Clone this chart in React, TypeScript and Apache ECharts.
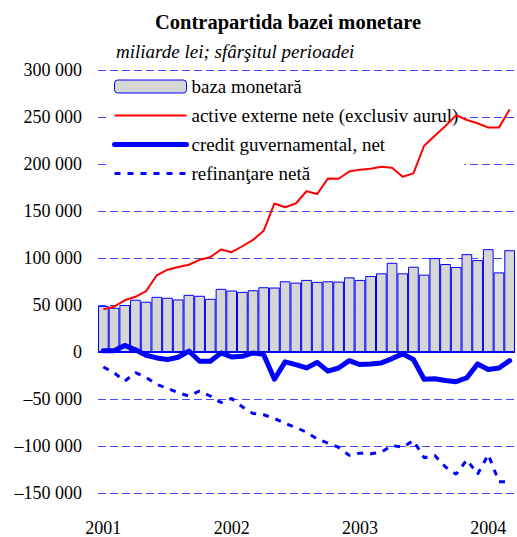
import React, { useEffect, useRef } from 'react';
import * as echarts from 'echarts';

const categories = [
  '2001-01', '2001-02', '2001-03', '2001-04', '2001-05', '2001-06', '2001-07', '2001-08', '2001-09', '2001-10', '2001-11', '2001-12',
  '2002-01', '2002-02', '2002-03', '2002-04', '2002-05', '2002-06', '2002-07', '2002-08', '2002-09', '2002-10', '2002-11', '2002-12',
  '2003-01', '2003-02', '2003-03', '2003-04', '2003-05', '2003-06', '2003-07', '2003-08', '2003-09', '2003-10', '2003-11', '2003-12',
  '2004-01', '2004-02', '2004-03',
];

const bazaMonetara = [
  49000, 47000, 50000, 55600, 53500, 58700, 57700, 55900, 60800, 59800, 56600, 67200,
  65400, 64000, 65700, 68900, 68600, 75200, 73800, 76700, 74600, 75200, 74900, 79400,
  76700, 80900, 83700, 94900, 83700, 90700, 82300, 99900, 93600, 90400, 104100, 97800,
  109400, 84700, 108300,
];

const activeExterne = [
  45400, 48200, 55000, 58700, 64700, 81600, 87600, 90400, 92800, 98100, 100900, 109000,
  106200, 112500, 119200, 129000, 158000, 154000, 158000, 171000, 168000, 184600, 184300, 192000,
  194000, 195000, 197000, 196000, 186400, 190000, 219400, 230000, 240500, 252000, 246800, 243400,
  238700, 238700, 258000,
];

const creditGuv = [
  1400, 1400, 7000, 2400, -3500, -6300, -8000, -5600, 1000, -9800, -9800, -1000,
  -5300, -4600, -1000, -2800, -29000, -10500, -13400, -17000, -11000, -20400, -17000, -9200,
  -13400, -12700, -11600, -7000, -2000, -8000, -29000, -28500, -30300, -31600, -27400, -12700,
  -18700, -17000, -9200,
];

const refinantare = [
  -16000, -22000, -31000, -22000, -27000, -34500, -38700, -43300, -46800, -41500, -46800, -53800,
  -49300, -58400, -65400, -66800, -70700, -76000, -80200, -85400, -92500, -97000, -101300, -110000,
  -107600, -108300, -106500, -99500, -101300, -94200, -112500, -110000, -122400, -130000, -114600, -130000,
  -109000, -138000, -138000,
];

const seriesNames = [
  'baza monetară',
  'active externe nete (exclusiv aurul)',
  'credit guvernamental, net',
  'refinanţare netă',
];

const FONT = 'Liberation Serif';

function fmt(v: number): string {
  const s = String(Math.abs(v)).replace(/\B(?=(\d{3})+(?!\d))/g, ' ');
  return v < 0 ? '\u2013' + s : s;
}

const hidden = { color: 'rgba(0,0,0,0)', borderColor: 'rgba(0,0,0,0)', borderWidth: 0, opacity: 0 };

export default function App() {
  const ref = useRef<HTMLDivElement>(null);
  useEffect(() => {
    if (!ref.current) return;
    const chart = echarts.init(ref.current, null, { renderer: 'svg' });
    chart.setOption({
      animation: false,
      backgroundColor: '#ffffff',
      textStyle: { fontFamily: FONT },
      title: [
        {
          text: 'Contrapartida bazei monetare',
          left: 155,
          top: 11,
          padding: 0,
          textStyle: { fontFamily: FONT, fontSize: 20.5, fontWeight: 'bold', color: '#000' },
        },
        {
          text: 'miliarde lei; sfârşitul perioadei',
          left: 116,
          top: 42,
          padding: 0,
          textStyle: { fontFamily: FONT, fontSize: 19, fontStyle: 'italic', fontWeight: 'normal', color: '#000' },
        },
      ],
      legend: {
        orient: 'vertical',
        left: 106,
        top: 74,
        padding: [3, 6, 6, 6],
        itemGap: 10,
        itemWidth: 72,
        itemHeight: 13,
        z: 1,
        backgroundColor: '#ffffff',
        data: [
          { name: seriesNames[0], itemStyle: { color: '#d6d6d6', borderColor: '#0000ff', borderWidth: 1 } },
          { name: seriesNames[1], itemStyle: hidden, lineStyle: { color: '#ff0000', width: 2 } },
          { name: seriesNames[2], itemStyle: hidden, lineStyle: { color: '#0000ff', width: 5, cap: 'round' } },
          { name: seriesNames[3], itemStyle: hidden, lineStyle: { color: '#0000ff', width: 3, type: [6, 7] } },
        ],
        textStyle: { fontFamily: FONT, fontSize: 19, color: '#000' },
      },
      grid: { left: 98, right: 2, top: 70, bottom: 40, containLabel: false },
      xAxis: {
        type: 'category',
        data: categories,
        axisLine: { show: false },
        axisTick: { show: false },
        axisLabel: {
          interval: (idx: number, val: string) => val.endsWith('-01'),
          formatter: (val: string) => val.slice(0, 4),
          margin: 26,
          fontFamily: FONT,
          fontSize: 18,
          color: '#000',
        },
        splitLine: { show: false },
      },
      yAxis: {
        type: 'value',
        min: -150000,
        max: 300000,
        interval: 50000,
        axisLine: { show: false },
        axisTick: { show: false },
        axisLabel: {
          formatter: (v: number) => fmt(v),
          margin: 16,
          fontFamily: FONT,
          fontSize: 18,
          color: '#000',
        },
        splitLine: { show: true, lineStyle: { color: '#4848ff', type: [8, 4], width: 1 } },
      },
      series: [
        {
          name: seriesNames[0],
          type: 'bar',
          data: bazaMonetara,
          barCategoryGap: '0%',
          itemStyle: { color: '#d6d6d6', borderColor: '#0000ff', borderWidth: 1 },
          z: 2,
          markLine: {
            silent: true,
            symbol: 'none',
            label: { show: false },
            lineStyle: { color: '#0000ff', width: 2, type: 'solid' },
            data: [{ yAxis: 0 }],
          },
        },
        {
          name: seriesNames[1],
          type: 'line',
          data: activeExterne,
          symbol: 'none',
          lineStyle: { color: '#ff0000', width: 2 },
          itemStyle: { color: '#ff0000' },
          z: 3,
        },
        {
          name: seriesNames[2],
          type: 'line',
          data: creditGuv,
          symbol: 'none',
          lineStyle: { color: '#0000ff', width: 5, cap: 'round', join: 'round' },
          itemStyle: { color: '#0000ff' },
          z: 3,
        },
        {
          name: seriesNames[3],
          type: 'line',
          data: refinantare,
          symbol: 'none',
          lineStyle: { color: '#0000ff', width: 3, type: [6, 7] },
          itemStyle: { color: '#0000ff' },
          z: 3,
        },
      ],
    });
    return () => chart.dispose();
  }, []);
  return <div ref={ref} style={{ position: 'fixed', left: 0, top: 0, width: 517, height: 537 }} />;
}
